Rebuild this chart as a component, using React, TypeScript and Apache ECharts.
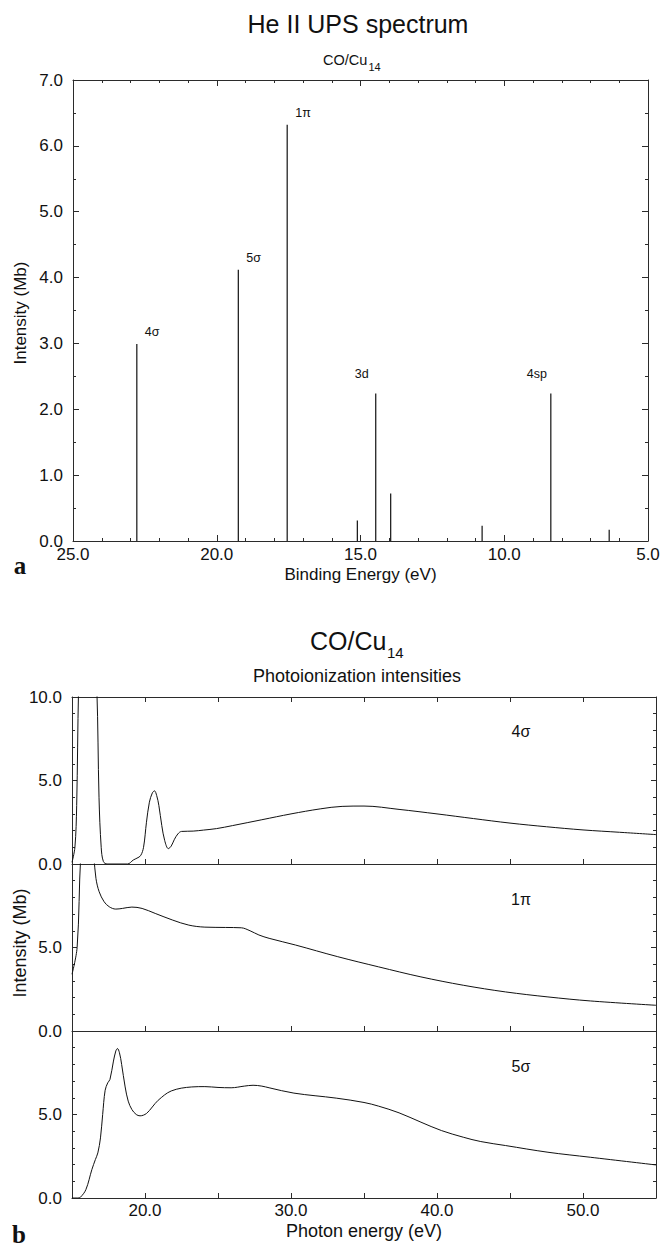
import React, { useEffect, useRef } from 'react';
import * as echarts from 'echarts';

const FONT = '"Liberation Sans", Arial, Helvetica, sans-serif';
const SERIF = '"Liberation Serif", "Times New Roman", serif';

// (a) He II UPS stick spectrum of CO/Cu14
const bindingEnergy = [22.78, 19.25, 17.55, 15.11, 14.47, 13.95, 10.77, 8.38, 6.35];
const upsIntensity = [2.99, 4.12, 6.32, 0.31, 2.24, 0.72, 0.23, 2.24, 0.17];
const peakNames = ['4σ', '5σ', '1π', '', '3d', '', '', '4sp', ''];

// (b) photoionization intensities versus photon energy
const photonE4s = [15.0, 15.2, 15.32, 15.45, 15.6, 16.0, 16.45, 16.7, 16.85, 17.0, 17.15, 17.4, 18.8, 19.2, 19.45, 19.7, 19.9, 20.1, 20.3, 20.5, 20.65, 20.8, 20.95, 21.15, 21.35, 21.6, 21.8, 22.0, 22.25, 22.5, 23.3, 24.0, 24.9, 26.0, 28.0, 30.0, 32.0, 33.5, 35.0, 37.4, 40.0, 42.5, 45.0, 47.5, 50.0, 52.5, 55.0];
const sigma4 = [0.1, 1.0, 3.5, 10.5, 14, 16, 14, 10.5, 4.0, 1.0, 0.15, 0.0, 0.0, 0.24, 0.35, 0.5, 1.0, 2.5, 3.7, 4.25, 4.38, 4.1, 3.5, 2.3, 1.4, 0.92, 1.08, 1.45, 1.8, 1.95, 1.97, 2.03, 2.12, 2.3, 2.65, 3.0, 3.3, 3.45, 3.47, 3.27, 3.0, 2.72, 2.45, 2.23, 2.04, 1.9, 1.76];

const photonE1p = [15.0, 15.35, 15.6, 15.9, 16.3, 16.5, 16.64, 16.86, 17.2, 17.55, 18.0, 18.45, 19.1, 19.8, 20.7, 21.9, 23.0, 24.1, 25.5, 26.6, 27.2, 27.8, 28.5, 30.3, 33.2, 36.0, 38.9, 41.8, 44.7, 47.6, 50.5, 55.0];
const pi1 = [3.4, 5.0, 10.5, 13, 12, 10.4, 9.14, 8.34, 7.74, 7.44, 7.3, 7.34, 7.42, 7.34, 7.04, 6.64, 6.34, 6.22, 6.2, 6.18, 6.0, 5.75, 5.55, 5.15, 4.45, 3.84, 3.24, 2.74, 2.34, 2.04, 1.8, 1.54];

const photonE5s = [15.0, 15.4, 15.57, 15.95, 16.36, 16.6, 16.77, 16.95, 17.1, 17.27, 17.45, 17.6, 17.84, 18.0, 18.11, 18.25, 18.4, 18.64, 18.85, 19.1, 19.4, 19.66, 20.1, 20.5, 20.9, 21.8, 23.2, 24.1, 25.0, 25.9, 26.8, 27.4, 28.0, 28.5, 30.2, 33.1, 35.0, 36.0, 37.4, 38.9, 40.3, 41.8, 43.0, 44.7, 47.6, 50.5, 55.0];
const sigma5 = [0, 0, 0.04, 0.5, 1.7, 2.3, 2.7, 3.6, 5.0, 6.45, 6.9, 7.1, 8.2, 8.8, 8.95, 8.7, 8.0, 6.65, 5.8, 5.3, 5.0, 4.92, 5.06, 5.45, 5.85, 6.41, 6.65, 6.67, 6.62, 6.6, 6.7, 6.75, 6.7, 6.6, 6.28, 5.98, 5.72, 5.5, 5.1, 4.54, 4.04, 3.64, 3.38, 3.14, 2.74, 2.44, 1.98];

const panelOrbitals = ['4σ', '1π', '5σ'];

const INK = '#111';
const AXIS = { color: '#2b2b2b', width: 1 };
const fmt1 = (v: number) => v.toFixed(1);
const fmtTens = (v: number) => (Math.abs(v % 10) < 1e-9 ? v.toFixed(1) : '');
const tickText = { color: INK, fontFamily: FONT, fontSize: 17 };
const nameText = { color: INK, fontFamily: FONT, fontSize: 17 };

const zip = (xs: number[], ys: number[]) => xs.map((x, i) => [x, ys[i]]);

// a value axis drawn as a frame side, with inward ticks
function frameAxis(extra: any) {
  return {
    type: 'value',
    axisLine: { show: true, onZero: false, lineStyle: AXIS },
    axisTick: { show: true, inside: true, length: 6, lineStyle: AXIS },
    splitLine: { show: false },
    axisLabel: { show: false },
    ...extra,
  };
}

function buildOption() {
  const grids = [
    { left: 73, top: 80, width: 575, height: 461 },
    { left: 72, top: 697, width: 584, height: 167 },
    { left: 72, top: 864, width: 584, height: 167 },
    { left: 72, top: 1031, width: 584, height: 167 },
  ];

  const upsX = { min: 5, max: 25, interval: 5, inverse: true, minorTick: { show: true, splitNumber: 5, length: 3, lineStyle: AXIS } };
  const upsY = { min: 0, max: 7, interval: 1, minorTick: { show: true, splitNumber: 2, length: 3, lineStyle: AXIS } };
  const peTick = { show: true, inside: true, length: 5, lineStyle: AXIS };
  const peX = { min: 15, max: 55, interval: 5, axisTick: peTick };
  const peY = { min: 0, max: 10, interval: 5, axisTick: peTick, minorTick: { show: true, splitNumber: 5, length: 3, lineStyle: AXIS } };

  const xAxis = [
    frameAxis({
      gridIndex: 0, position: 'bottom', ...upsX,
      axisLabel: { show: true, margin: 5, formatter: fmt1, ...tickText },
      name: 'Binding Energy (eV)', nameLocation: 'middle', nameGap: 25, nameTextStyle: nameText,
    }),
    frameAxis({ gridIndex: 0, position: 'top', ...upsX }),
    frameAxis({ gridIndex: 1, position: 'bottom', ...peX }),
    frameAxis({ gridIndex: 1, position: 'top', ...peX }),
    frameAxis({ gridIndex: 2, position: 'bottom', ...peX }),
    frameAxis({
      gridIndex: 3, position: 'bottom', ...peX,
      axisLabel: { show: true, margin: 4, formatter: fmtTens, ...tickText },
      name: 'Photon energy (eV)', nameLocation: 'middle', nameGap: 24, nameTextStyle: { ...nameText, fontSize: 18 },
    }),
  ];

  const leftLabels = (hideMax: boolean) => ({ show: true, margin: 10, formatter: fmt1, showMaxLabel: !hideMax, ...tickText });

  const yAxis = [
    frameAxis({ gridIndex: 0, position: 'left', ...upsY, axisLabel: leftLabels(false) }),
    frameAxis({ gridIndex: 0, position: 'right', ...upsY }),
    frameAxis({ gridIndex: 1, position: 'left', ...peY, axisLabel: leftLabels(false) }),
    frameAxis({ gridIndex: 1, position: 'right', ...peY }),
    frameAxis({ gridIndex: 2, position: 'left', ...peY, axisLabel: leftLabels(true) }),
    frameAxis({ gridIndex: 2, position: 'right', ...peY }),
    frameAxis({ gridIndex: 3, position: 'left', ...peY, axisLabel: leftLabels(true) }),
    frameAxis({ gridIndex: 3, position: 'right', ...peY }),
  ];

  const curve = (name: string, data: number[][], xi: number, yi: number) => ({
    type: 'line', name, data, xAxisIndex: xi, yAxisIndex: yi,
    showSymbol: false, symbol: 'none', smooth: 0.35, clip: true,
    lineStyle: { color: INK, width: 1 }, silent: true,
  });

  const sticks = {
    type: 'custom', name: 'UPS', xAxisIndex: 0, yAxisIndex: 0, clip: false, silent: true,
    data: bindingEnergy.map((e, i) => [e, upsIntensity[i]]),
    renderItem: (params: any, api: any) => {
      const e = api.value(0);
      const v = api.value(1);
      const base = api.coord([e, 0]);
      const tip = api.coord([e, v]);
      const name = peakNames[params.dataIndex];
      const children: any[] = [
        { type: 'line', shape: { x1: base[0], y1: base[1], x2: tip[0], y2: tip[1] }, style: { stroke: INK, lineWidth: 1.2 } },
      ];
      if (name) {
        const orbital = /[σπ]/.test(name);
        children.push({
          type: 'text',
          x: tip[0] + (orbital ? 8 : -14),
          y: tip[1] + (orbital ? -12 : -19),
          style: { text: name, fill: INK, fontFamily: FONT, fontSize: 12.5, align: orbital ? 'left' : 'center', verticalAlign: 'middle' },
        });
      }
      return { type: 'group', children };
    },
  };

  const txt = (text: string, x: number, y: number, fontSize: number, extra: any = {}) => ({
    type: 'text', x, y, silent: true,
    style: { text, fill: INK, fontFamily: FONT, fontSize, align: 'center', verticalAlign: 'middle', ...extra },
  });

  const panelY = [731, 899, 1066];

  const graphic = [
    txt('He II UPS spectrum', 358, 24, 25),
    txt('CO/Cu', 323, 60, 14.5, { align: 'left' }),
    txt('14', 368.5, 67, 11, { align: 'left' }),
    { ...txt('Intensity (Mb)', 20, 313, 17), rotation: Math.PI / 2 },
    txt('a', 20, 565, 25, { fontFamily: SERIF, fontWeight: 'bold' }),

    txt('CO/Cu', 310, 641, 25, { align: 'left' }),
    txt('14', 387, 652, 15, { align: 'left' }),
    txt('Photoionization intensities', 357, 676, 18),
    { ...txt('Intensity (Mb)', 20, 943, 18), rotation: Math.PI / 2 },
    ...panelOrbitals.map((o, i) => txt(o, 521, panelY[i], 16)),
    txt('b', 19, 1234, 25, { fontFamily: SERIF, fontWeight: 'bold' }),
  ];

  return {
    animation: false,
    backgroundColor: '#fff',
    grid: grids,
    xAxis,
    yAxis,
    series: [
      sticks,
      curve('4σ', zip(photonE4s, sigma4), 2, 2),
      curve('1π', zip(photonE1p, pi1), 4, 4),
      curve('5σ', zip(photonE5s, sigma5), 5, 6),
    ],
    graphic,
  };
}

export default function App() {
  const ref = useRef<HTMLDivElement>(null);
  useEffect(() => {
    if (!ref.current) return;
    const chart = echarts.init(ref.current, null, { renderer: 'svg' });
    chart.setOption(buildOption() as any);
    return () => chart.dispose();
  }, []);
  return (
    <div
      ref={ref}
      style={{ position: 'absolute', left: 0, top: 0, width: 663, height: 1246, background: '#fff' }}
    />
  );
}
